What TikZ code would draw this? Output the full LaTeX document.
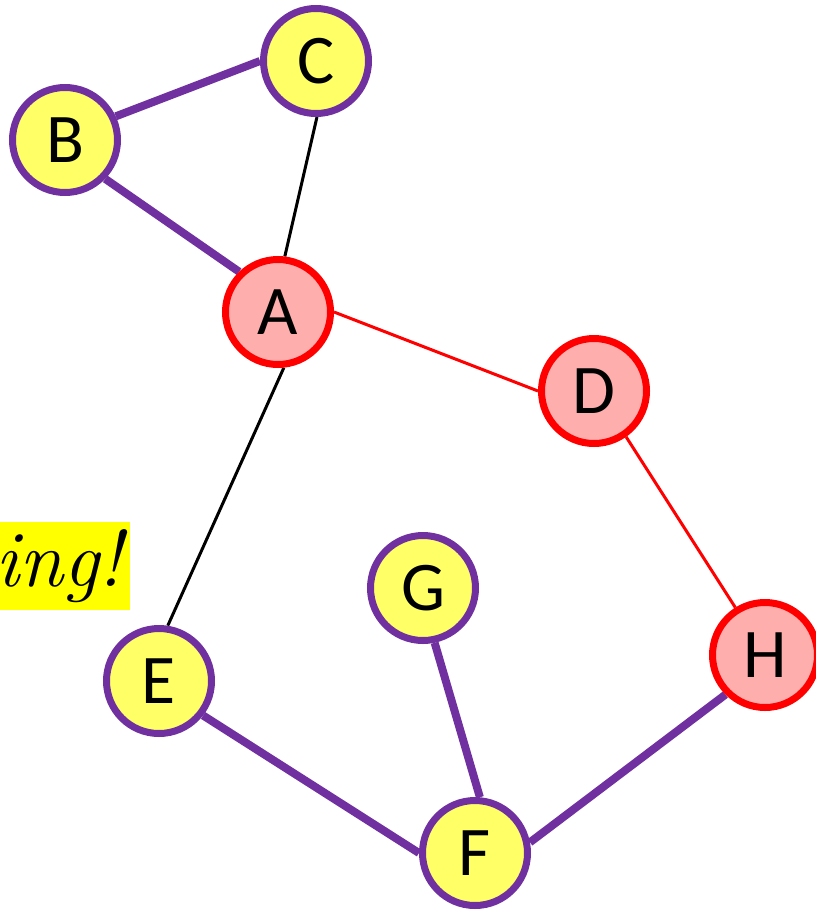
\documentclass[tikz,border=0pt]{standalone}
\usepackage{fontspec}
\setmainfont{Carlito}
\newfontfamily\handfont{Latin Modern Roman}
\usetikzlibrary{backgrounds}
\definecolor{purp}{HTML}{7030A0}
\definecolor{yfill}{HTML}{FFFF66}
\definecolor{pfill}{HTML}{FFAEAE}
\definecolor{hlyellow}{HTML}{FFFF00}
\begin{document}
\begin{tikzpicture}[x=1bp,y=-1bp,
  vtx/.style={circle, line width=7bp, minimum size=105bp, inner sep=0pt,
    font=\fontsize{70}{74}\selectfont},
  yel/.style={vtx, draw=purp, fill=yfill},
  pnk/.style={vtx, draw=red, fill=pfill},
  heavy/.style={draw=purp, line width=8bp},
  blackline/.style={draw=black, line width=3bp},
  redline/.style={draw=red, line width=3bp}]
\useasboundingbox (0,0) rectangle (816,912);

% highlighted note, running off the left edge
\node[fill=hlyellow, anchor=east, text width=200bp, align=right,
  minimum height=88bp, inner xsep=7bp,
  font=\handfont\itshape\fontsize{80}{84}\selectfont] (note) at (130,566) {ing!};

% vertices
\node[yel] (C) at (316,61) {C};
\node[yel] (B) at (65,140) {B};
\node[pnk] (A) at (278,312) {A};
\node[pnk] (D) at (594,391) {D};
\node[yel] (G) at (423,588) {G};
\node[yel] (E) at (159,681) {E};
\node[pnk] (H) at (765,655) {H};
\node[yel] (F) at (475,853) {F};

% edges, kept under the rings
\begin{scope}[on background layer]
  \draw[heavy] (B.25) -- (C.180);
  \draw[heavy] (B.-44) -- (A.134);
  \draw[blackline] (C.-89) -- (A.83);
  \draw[redline] (A.0) -- (D.180);
  \draw[redline] (D.-55) -- (H.122);
  \draw[blackline] (A.-84) -- (E.81);
  \draw[heavy] (E.-38) -- (F.180);
  \draw[heavy] (G.-78) -- (F.85);
  \draw[heavy] (F.11) -- (H.-135);
\end{scope}
\end{tikzpicture}
\end{document}
